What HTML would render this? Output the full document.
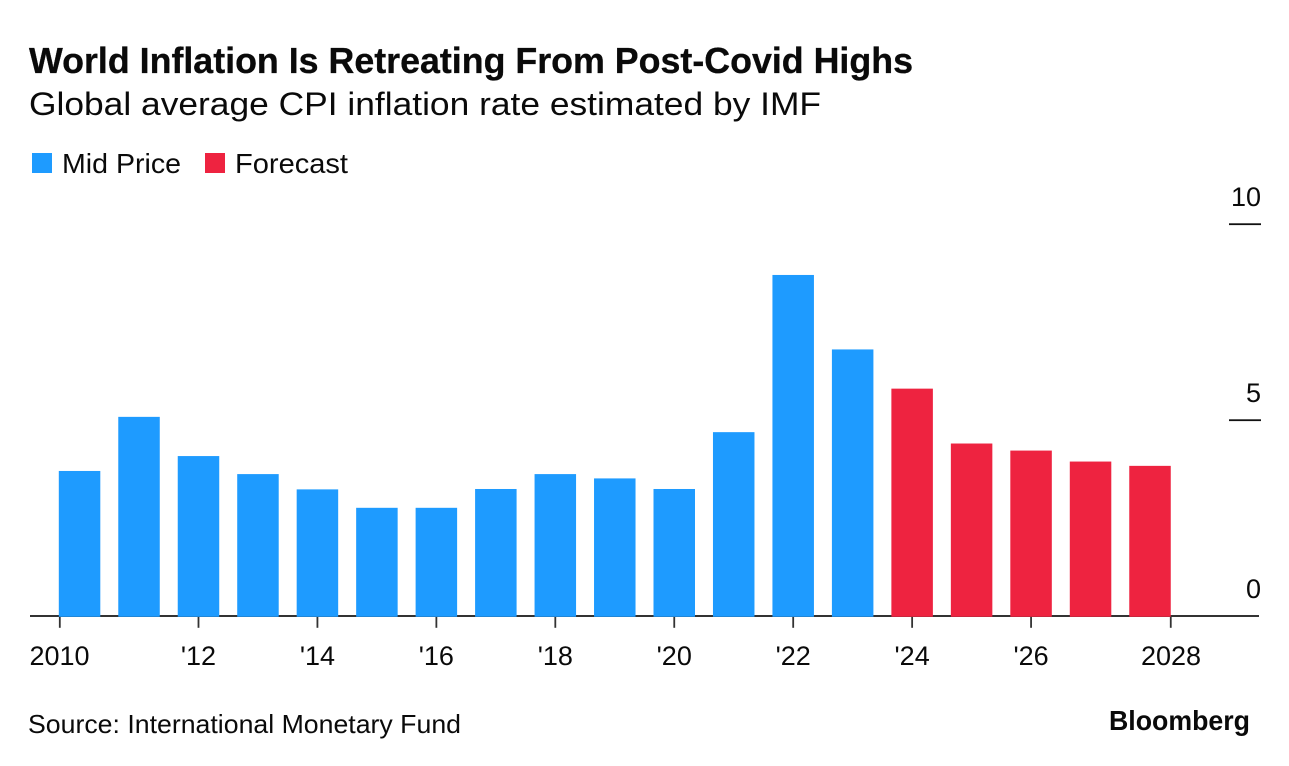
<!DOCTYPE html>
<html lang="en">
<head>
<meta charset="utf-8">
<title>World Inflation Is Retreating From Post-Covid Highs</title>
<style>
html,body{margin:0;padding:0;background:#fff;width:1289px;height:766px;overflow:hidden}
svg{display:block;font-family:"Liberation Sans",sans-serif}
text{fill:#0a0a0a}
</style>
</head>
<body>
<svg id="chart" width="1289" height="766" viewBox="0 0 1289 766" xmlns="http://www.w3.org/2000/svg">
  <rect x="0" y="0" width="1289" height="766" fill="#ffffff"/>
  <text x="29" y="73" font-size="36" font-weight="700" textLength="884" lengthAdjust="spacingAndGlyphs" stroke="#0a0a0a" stroke-width="0.3">World Inflation Is Retreating From Post-Covid Highs</text>
  <text x="29" y="115" font-size="32.5" textLength="792" lengthAdjust="spacingAndGlyphs">Global average CPI inflation rate estimated by IMF</text>

  <g>
    <rect x="32" y="153" width="20" height="20" fill="#1e9bff"/>
    <text x="62" y="173" font-size="28" textLength="119" lengthAdjust="spacingAndGlyphs">Mid Price</text>
    <rect x="205" y="153" width="20" height="20" fill="#ee2340"/>
    <text x="235" y="173" font-size="28" textLength="113" lengthAdjust="spacingAndGlyphs">Forecast</text>
  </g>

  <g id="y-axis"></g>
  <g id="x-axis"></g>
  <g id="bars"></g>

  <text x="28" y="733" font-size="26" textLength="433" lengthAdjust="spacingAndGlyphs">Source: International Monetary Fund</text>
  <text x="1109" y="730" font-size="28" font-weight="700" textLength="141" lengthAdjust="spacingAndGlyphs">Bloomberg</text>
</svg>
<script>
var years = [2010,2011,2012,2013,2014,2015,2016,2017,2018,2019,2020,2021,2022,2023,2024,2025,2026,2027,2028];
var midPriceValues = [3.7,5.08,4.08,3.62,3.23,2.76,2.76,3.24,3.62,3.51,3.24,4.69,8.7,6.8,null,null,null,null,null];
var forecastValues = [null,null,null,null,null,null,null,null,null,null,null,null,null,null,5.8,4.4,4.22,3.94,3.83];
var xTickYears = [2010,2012,2014,2016,2018,2020,2022,2024,2026,2028];
var xTickLabels = ["2010","'12","'14","'16","'18","'20","'22","'24","'26","2028"];
var yTickValues = [0,5,10];
var yTickLabels = ["0","5","10"];

var NS = 'http://www.w3.org/2000/svg';
var plotLeft = 58.8, step = 59.47, barWidth = 41.5, baseY = 616, unitPx = 39.2;
function xScale(year) { return plotLeft + (year - years[0]) * step; }
function yScale(v) { return baseY - v * unitPx; }
function node(tag, attrs, parent) {
  var el = document.createElementNS(NS, tag);
  for (var k in attrs) { el.setAttribute(k, attrs[k]); }
  parent.appendChild(el);
  return el;
}
var barsG = document.getElementById('bars');
var xG = document.getElementById('x-axis');
var yG = document.getElementById('y-axis');

function drawSeries(values, color, label) {
  values.forEach(function (v, i) {
    if (v === null) { return; }
    var r = node('rect', {x: xScale(years[i]), y: yScale(v), width: barWidth, height: baseY + 0.8 - yScale(v), fill: color}, barsG);
    
    
  });
}
drawSeries(midPriceValues, '#1e9bff', 'mid-price');
drawSeries(forecastValues, '#ee2340', 'forecast');

var axisLine = node('rect', {x: 30, y: baseY - 1, width: 1229, height: 2, fill: '#333333'}, xG);



var firstYear = years[0], lastYear = years[years.length - 1];
xTickYears.forEach(function (yr, i) {
  var cx = xScale(yr) + barWidth / 2;
  if (yr === firstYear) { cx = xScale(yr) + 1; }
  if (yr === lastYear) { cx = xScale(yr) + barWidth; }
  var t = node('rect', {x: cx - 0.9, y: baseY + 0.8, width: 1.8, height: 11, fill: '#333333'}, xG);
  
  
  var lx = xScale(yr) + barWidth / 2;
  if (yr === firstYear) { lx = 59.5; }
  if (yr === lastYear) { lx = 1171; }
  var l = node('text', {x: lx, y: 665, 'font-size': 27, 'text-anchor': 'middle'}, xG);
  l.textContent = xTickLabels[i];
  
  
});

yTickValues.forEach(function (v, i) {
  var y = yScale(v);
  if (v !== 0) {
    var line = node('rect', {x: 1229, y: y - 0.7, width: 32, height: 1.8, fill: '#111111'}, yG);
    
    
  }
  var l = node('text', {x: 1261, y: y - 18, 'font-size': 27, 'text-anchor': 'end'}, yG);
  l.textContent = yTickLabels[i];
  
  
});
</script>
</body>
</html>
